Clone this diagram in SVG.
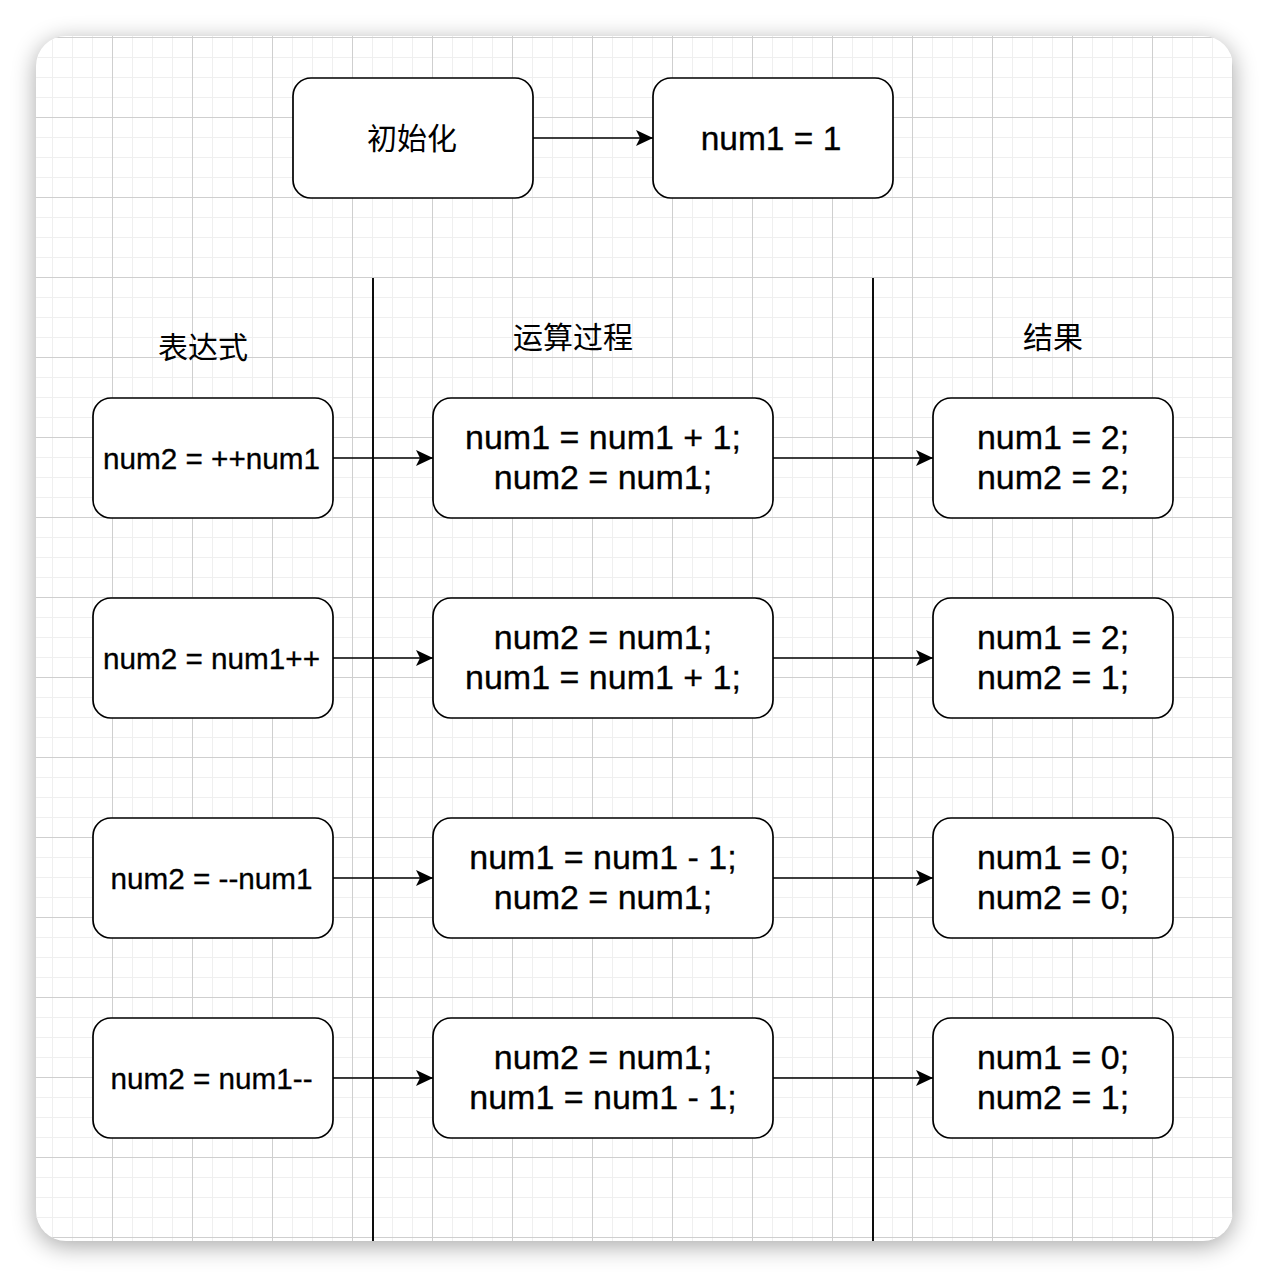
<svg xmlns="http://www.w3.org/2000/svg" width="1270" height="1278" viewBox="0 0 1270 1278">
  <defs>
    <filter id="shadow" x="-10%" y="-10%" width="120%" height="120%">
      <feGaussianBlur in="SourceAlpha" stdDeviation="12"/>
      <feOffset dx="0" dy="5" result="b"/>
      <feComponentTransfer><feFuncA type="linear" slope="0.35"/></feComponentTransfer>
    </filter>
    <pattern id="grid" x="32" y="37" width="80" height="80" patternUnits="userSpaceOnUse">
      <g stroke="#efefef" stroke-width="1" fill="none">
        <path d="M20.5 0V80M40.5 0V80M60.5 0V80M0 20.5H80M0 40.5H80M0 60.5H80"/>
      </g>
      <g stroke="#cfcfcf" stroke-width="1" fill="none">
        <path d="M0.5 0V80M0 0.5H80"/>
      </g>
    </pattern>
    <clipPath id="card"><rect x="36" y="36" width="1197" height="1205" rx="30"/></clipPath>
    <marker id="arrow" markerUnits="userSpaceOnUse" markerWidth="20" markerHeight="20" viewBox="-18 -10 20 20" refX="0" refY="0" orient="auto">
      <path d="M0 0L-17 -8L-13 0L-17 8Z" fill="#000"/>
    </marker>
    <style>
      .box { fill: #fff; stroke: #000; stroke-width: 1.7; }
      .t { font-family: "Liberation Sans", Arial, sans-serif; fill: #000; stroke: #000; stroke-width: 0.3; text-anchor: middle; }
      .tl { font-size: 29.7px; }
      .tm { font-size: 34px; }
      .tt { font-size: 33.5px; }
      .cjk { font-family: "Noto Sans CJK SC", "Liberation Sans", sans-serif; font-size: 30px; fill: #000; text-anchor: middle; }
      .conn { stroke: #000; stroke-width: 1.7; fill: none; }
    </style>
  </defs>

  <rect x="36" y="36" width="1197" height="1205" rx="30" fill="#000" filter="url(#shadow)"/>
  <rect x="36" y="36" width="1197" height="1205" rx="30" fill="#fff"/>
  <rect x="36" y="36" width="1197" height="1205" fill="url(#grid)" clip-path="url(#card)"/>

  <g id="dividers" clip-path="url(#card)">
    <line x1="373" y1="278" x2="373" y2="1245" stroke="#000" stroke-width="1.9"/>
    <line x1="873" y1="278" x2="873" y2="1245" stroke="#000" stroke-width="1.9"/>
  </g>

  <g id="headers">
    <text class="cjk" x="203" y="358">表达式</text>
    <text class="cjk" x="573" y="348">运算过程</text>
    <text class="cjk" x="1053" y="348">结果</text>
  </g>

  <g id="connectors">
    <line class="conn" x1="533" y1="138" x2="653" y2="138" marker-end="url(#arrow)"/>
    <line class="conn" x1="333" y1="458" x2="433" y2="458" marker-end="url(#arrow)"/>
    <line class="conn" x1="773" y1="458" x2="933" y2="458" marker-end="url(#arrow)"/>
    <line class="conn" x1="333" y1="658" x2="433" y2="658" marker-end="url(#arrow)"/>
    <line class="conn" x1="773" y1="658" x2="933" y2="658" marker-end="url(#arrow)"/>
    <line class="conn" x1="333" y1="878" x2="433" y2="878" marker-end="url(#arrow)"/>
    <line class="conn" x1="773" y1="878" x2="933" y2="878" marker-end="url(#arrow)"/>
    <line class="conn" x1="333" y1="1078" x2="433" y2="1078" marker-end="url(#arrow)"/>
    <line class="conn" x1="773" y1="1078" x2="933" y2="1078" marker-end="url(#arrow)"/>
  </g>

  <g id="init">
    <rect class="box" x="293" y="78" width="240" height="120" rx="18"/>
    <text class="cjk" x="412" y="149">初始化</text>
  </g>
  <g id="init-value">
    <rect class="box" x="653" y="78" width="240" height="120" rx="18"/>
    <text class="t tt" x="771" y="149.5">num1 = 1</text>
  </g>

  <g id="expr1">
    <rect class="box" x="93" y="398" width="240" height="120" rx="18"/>
    <text class="t tl" x="211.5" y="468.5">num2 = ++num1</text>
  </g>
  <g id="proc1">
    <rect class="box" x="433" y="398" width="340" height="120" rx="18"/>
    <text class="t tm" x="603" y="449">num1 = num1 + 1;</text>
    <text class="t tm" x="603" y="489">num2 = num1;</text>
  </g>
  <g id="res1">
    <rect class="box" x="933" y="398" width="240" height="120" rx="18"/>
    <text class="t tm" x="1053" y="449">num1 = 2;</text>
    <text class="t tm" x="1053" y="489">num2 = 2;</text>
  </g>

  <g id="expr2">
    <rect class="box" x="93" y="598" width="240" height="120" rx="18"/>
    <text class="t tl" x="211.5" y="668.5">num2 = num1++</text>
  </g>
  <g id="proc2">
    <rect class="box" x="433" y="598" width="340" height="120" rx="18"/>
    <text class="t tm" x="603" y="649">num2 = num1;</text>
    <text class="t tm" x="603" y="689">num1 = num1 + 1;</text>
  </g>
  <g id="res2">
    <rect class="box" x="933" y="598" width="240" height="120" rx="18"/>
    <text class="t tm" x="1053" y="649">num1 = 2;</text>
    <text class="t tm" x="1053" y="689">num2 = 1;</text>
  </g>

  <g id="expr3">
    <rect class="box" x="93" y="818" width="240" height="120" rx="18"/>
    <text class="t tl" x="211.5" y="888.5">num2 = --num1</text>
  </g>
  <g id="proc3">
    <rect class="box" x="433" y="818" width="340" height="120" rx="18"/>
    <text class="t tm" x="603" y="869">num1 = num1 - 1;</text>
    <text class="t tm" x="603" y="909">num2 = num1;</text>
  </g>
  <g id="res3">
    <rect class="box" x="933" y="818" width="240" height="120" rx="18"/>
    <text class="t tm" x="1053" y="869">num1 = 0;</text>
    <text class="t tm" x="1053" y="909">num2 = 0;</text>
  </g>

  <g id="expr4">
    <rect class="box" x="93" y="1018" width="240" height="120" rx="18"/>
    <text class="t tl" x="211.5" y="1088.5">num2 = num1--</text>
  </g>
  <g id="proc4">
    <rect class="box" x="433" y="1018" width="340" height="120" rx="18"/>
    <text class="t tm" x="603" y="1069">num2 = num1;</text>
    <text class="t tm" x="603" y="1109">num1 = num1 - 1;</text>
  </g>
  <g id="res4">
    <rect class="box" x="933" y="1018" width="240" height="120" rx="18"/>
    <text class="t tm" x="1053" y="1069">num1 = 0;</text>
    <text class="t tm" x="1053" y="1109">num2 = 1;</text>
  </g>
</svg>
